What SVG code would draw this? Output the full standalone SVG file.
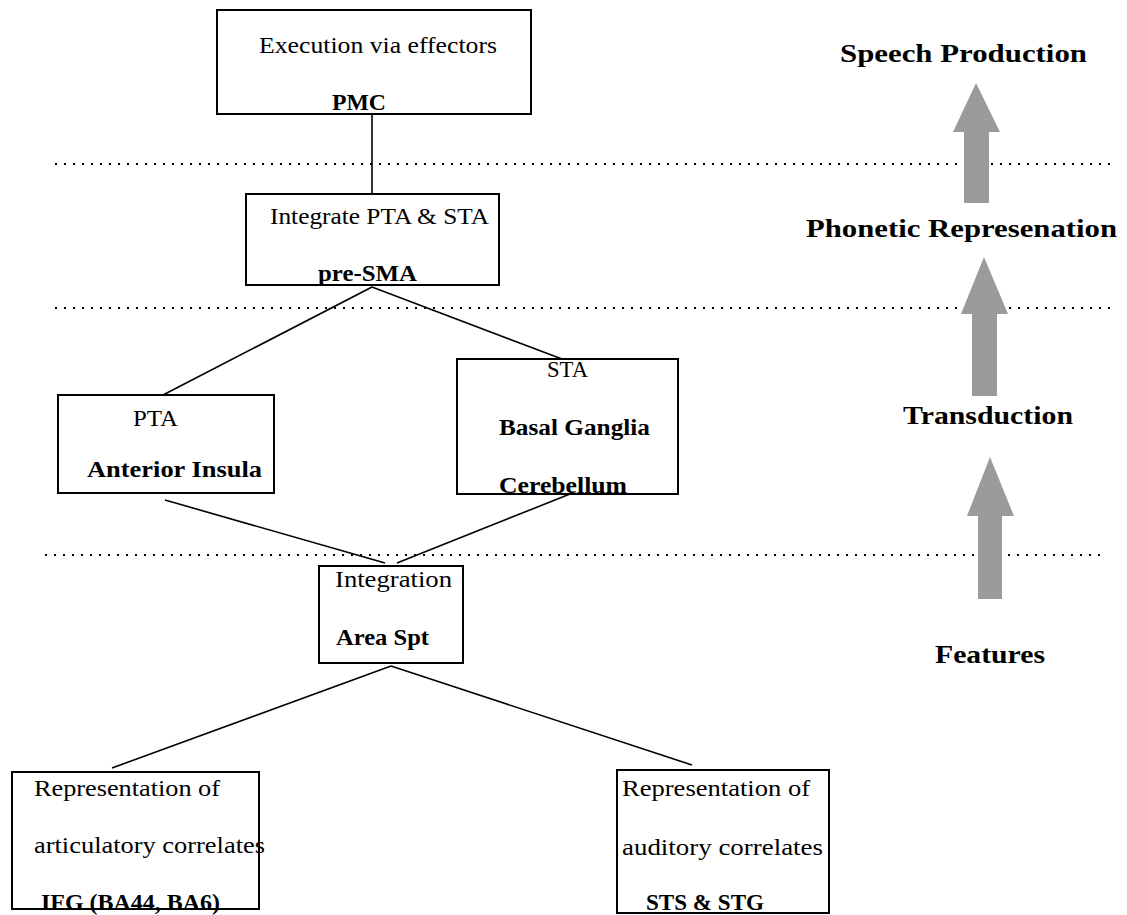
<svg xmlns="http://www.w3.org/2000/svg" width="1127" height="915" viewBox="0 0 1127 915">
  <style>
    .box { fill: #ffffff; stroke: #000000; stroke-width: 2; }
    .link { stroke: #000000; stroke-width: 1.6; fill: none; }
    .dots { stroke: #000000; stroke-width: 2; stroke-dasharray: 2 7; fill: none; }
    .txt { font-family: "Liberation Serif", "Times New Roman", serif; font-size: 24px; fill: #000000; }
    .bold { font-family: "Liberation Serif", "Times New Roman", serif; font-size: 23px; font-weight: bold; fill: #000000; }
    .stage { font-family: "Liberation Serif", "Times New Roman", serif; font-size: 26px; font-weight: bold; fill: #000000; }
    .flow { fill: #9b9b9b; }
  </style>

  <!-- level separators -->
  <g id="separators">
    <line class="dots" x1="55" y1="164" x2="1112" y2="164"/>
    <line class="dots" x1="55" y1="308" x2="1112" y2="308"/>
    <line class="dots" x1="45" y1="555" x2="1100" y2="555"/>
  </g>

  <!-- connectors between areas -->
  <g id="connectors">
    <line class="link" x1="372" y1="114" x2="372" y2="205"/>
    <line class="link" x1="372" y1="287" x2="163" y2="395"/>
    <line class="link" x1="372" y1="287" x2="562" y2="359"/>
    <line class="link" x1="165" y1="500" x2="385" y2="563"/>
    <line class="link" x1="570" y1="494" x2="397" y2="563"/>
    <line class="link" x1="391" y1="666" x2="112" y2="768"/>
    <line class="link" x1="391" y1="666" x2="692" y2="765"/>
  </g>

  <g id="node-pmc">
    <rect class="box" x="217" y="10" width="314" height="104"/>
    <text class="txt" x="259" y="53" textLength="238" lengthAdjust="spacingAndGlyphs">Execution via effectors</text>
    <text class="bold" x="332" y="110" textLength="54" lengthAdjust="spacingAndGlyphs">PMC</text>
  </g>

  <g id="node-presma">
    <rect class="box" x="246" y="194" width="253" height="91"/>
    <text class="txt" x="270" y="224" textLength="219" lengthAdjust="spacingAndGlyphs">Integrate PTA &amp; STA</text>
    <text class="bold" x="318" y="281" textLength="99" lengthAdjust="spacingAndGlyphs">pre-SMA</text>
  </g>

  <g id="node-pta">
    <rect class="box" x="58" y="395" width="216" height="98"/>
    <text class="txt" x="133" y="426" textLength="45" lengthAdjust="spacingAndGlyphs">PTA</text>
    <text class="bold" x="87" y="477" textLength="175" lengthAdjust="spacingAndGlyphs">Anterior Insula</text>
  </g>

  <g id="node-sta">
    <rect class="box" x="457" y="359" width="221" height="135"/>
    <text class="txt" x="547" y="377" textLength="41" lengthAdjust="spacingAndGlyphs">STA</text>
    <text class="bold" x="499" y="435" textLength="151" lengthAdjust="spacingAndGlyphs">Basal Ganglia</text>
    <text class="bold" x="499" y="493" textLength="128" lengthAdjust="spacingAndGlyphs">Cerebellum</text>
  </g>

  <g id="node-spt">
    <rect class="box" x="319" y="566" width="144" height="97"/>
    <text class="txt" x="335" y="587" textLength="117" lengthAdjust="spacingAndGlyphs">Integration</text>
    <text class="bold" x="336" y="645" textLength="93" lengthAdjust="spacingAndGlyphs">Area Spt</text>
  </g>

  <g id="node-ifg">
    <rect class="box" x="12" y="772" width="247" height="137"/>
    <text class="txt" x="34" y="796" textLength="186" lengthAdjust="spacingAndGlyphs">Representation of</text>
    <text class="txt" x="34" y="853" textLength="231" lengthAdjust="spacingAndGlyphs">articulatory correlates</text>
    <text class="bold" x="41" y="910" textLength="179" lengthAdjust="spacingAndGlyphs">IFG (BA44, BA6)</text>
  </g>

  <g id="node-sts">
    <rect class="box" x="617" y="770" width="212" height="143"/>
    <text class="txt" x="622" y="796" textLength="188" lengthAdjust="spacingAndGlyphs">Representation of</text>
    <text class="txt" x="622" y="855" textLength="201" lengthAdjust="spacingAndGlyphs">auditory correlates</text>
    <text class="bold" x="646" y="910" textLength="118" lengthAdjust="spacingAndGlyphs">STS &amp; STG</text>
  </g>

  <!-- processing stages, bottom to top -->
  <g id="stages">
    <text class="stage" x="840" y="62" textLength="247" lengthAdjust="spacingAndGlyphs">Speech Production</text>
    <text class="stage" x="806" y="237" textLength="311" lengthAdjust="spacingAndGlyphs">Phonetic Represenation</text>
    <text class="stage" x="903" y="424" textLength="170" lengthAdjust="spacingAndGlyphs">Transduction</text>
    <text class="stage" x="935" y="663" textLength="110" lengthAdjust="spacingAndGlyphs">Features</text>
  </g>

  <g id="stage-arrows">
    <polygon class="flow" points="976,83 1000,132 989,132 989,203 964,203 964,132 953,132"/>
    <polygon class="flow" points="984,257 1008,314 997,314 997,396 972,396 972,314 961,314"/>
    <polygon class="flow" points="990,457 1014,516 1002,516 1002,599 978,599 978,516 967,516"/>
  </g>
</svg>
